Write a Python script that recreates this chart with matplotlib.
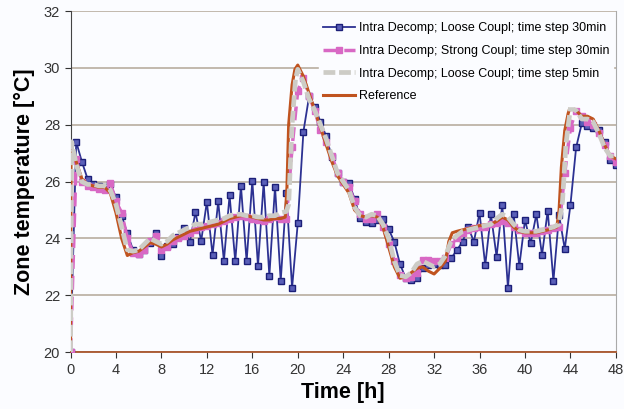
import numpy as np
import matplotlib
matplotlib.use('Agg')
import matplotlib.pyplot as plt

plt.rcParams['font.family'] = ['Liberation Sans', 'DejaVu Sans']

# Intra Decomp; Loose Coupl; time step 30min (every 0.5 h)
t_30 = np.arange(0, 48.5, 0.5)
loose_30 = [20.0, 27.4, 26.7, 26.1, 25.9, 25.85, 25.8, 25.9, 25.45, 24.8,
            24.18, 23.6, 23.45, 23.6, 23.85, 24.18, 23.38, 23.75, 23.79, 24.05,
            24.35, 23.87, 24.92, 23.91, 25.29, 23.42, 25.3, 23.21, 25.52, 23.19,
            25.85, 23.19, 26.03, 23.03, 25.97, 22.68, 25.82, 22.5, 25.59, 22.26,
            24.53, 27.76, 29.0, 28.64, 28.1, 27.6, 26.85, 26.3, 26.0, 25.95,
            25.4, 24.71, 24.59, 24.55, 24.65, 24.7, 24.33, 23.88, 23.1, 22.6,
            22.54, 22.62, 22.95, 23.07, 23.1, 23.07, 23.07, 23.3, 23.59, 23.88,
            24.41, 23.88, 24.9, 23.05, 24.85, 23.36, 25.18, 22.26, 24.86, 23.03,
            24.65, 23.83, 24.85, 23.42, 24.98, 22.5, 24.82, 23.63, 25.18, 27.2,
            28.05, 27.95, 27.9, 27.8, 27.4, 26.76, 26.6]

# Intra Decomp; Strong Coupl; time step 30min
strong_30 = [20.0, 26.8, 26.0, 25.85, 25.8, 25.75, 25.7, 25.95, 25.3, 24.9,
             24.0, 23.5, 23.45, 23.6, 23.9, 24.1, 23.6, 23.7, 23.9, 24.0,
             24.1, 24.2, 24.3, 24.4, 24.45, 24.5, 24.55, 24.6, 24.7, 24.75,
             24.8, 24.75, 24.7, 24.65, 24.6, 24.7, 24.75, 24.7, 24.7, 27.2,
             29.2, 29.65, 29.0, 28.5, 27.8, 27.4, 26.9, 26.3, 26.0, 25.8,
             25.3, 24.85, 24.7, 24.7, 24.85, 24.4, 23.8, 23.2, 22.7, 22.6,
             22.65, 22.8, 23.25, 23.25, 23.2, 23.2, 23.3, 23.8, 24.0, 24.2,
             24.3, 24.35, 24.4, 24.4, 24.5, 24.55, 24.6, 24.55, 24.4, 24.3,
             24.2, 24.2, 24.2, 24.25, 24.3, 24.35, 24.4, 26.3, 27.9, 28.5,
             28.3, 28.1, 28.0, 27.7, 27.3, 26.9, 26.7]

# Intra Decomp; Loose Coupl; time step 5min
t_5 = [0, 0.1, 0.5, 1, 1.5, 2, 2.5, 3, 3.5, 4, 4.5, 5, 5.5, 6, 6.5, 7, 7.5, 8,
       8.5, 9, 9.5, 10, 10.5, 11, 11.5, 12, 12.5, 13, 13.5, 14, 14.5, 15, 15.5,
       16, 16.5, 17, 17.5, 18, 18.5, 19, 19.2, 19.5, 19.8, 20, 20.5, 21, 21.5,
       22, 22.5, 23, 23.5, 24, 24.5, 25, 25.5, 26, 26.5, 27, 27.5, 28, 28.5,
       29, 29.5, 30, 30.5, 31, 31.5, 32, 32.5, 33, 33.5, 34, 34.5, 35, 35.5,
       36, 36.5, 37, 37.5, 38, 38.5, 39, 39.5, 40, 40.5, 41, 41.5, 42, 42.5,
       43, 43.3, 43.6, 44, 44.5, 45, 45.5, 46, 46.5, 47, 47.5, 48]
loose_5 = [20.0, 27.4, 26.6, 26.0, 25.9, 25.9, 25.85, 25.85, 25.7, 25.2, 24.4,
           23.6, 23.55, 23.6, 23.8, 24.0, 23.9, 23.8, 23.9, 24.1, 24.2, 24.3,
           24.4, 24.5, 24.5, 24.55, 24.6, 24.65, 24.7, 24.8, 24.85, 24.85, 24.8,
           24.8, 24.75, 24.75, 24.8, 24.8, 24.9, 24.95, 25.2, 28.0, 29.6, 29.95,
           29.5, 28.9, 28.5, 28.0, 27.5, 26.9, 26.3, 26.0, 25.7, 25.1, 24.8,
           24.75, 24.85, 24.8, 24.5, 24.0, 23.2, 22.7, 22.65, 22.8, 23.1, 23.2,
           23.1, 23.0, 23.1, 23.4, 23.9, 24.1, 24.25, 24.3, 24.35, 24.4, 24.45,
           24.5, 24.7, 24.85, 24.75, 24.5, 24.3, 24.25, 24.25, 24.25, 24.3,
           24.35, 24.4, 24.5, 25.3, 27.3, 28.6, 28.5, 28.2, 28.2, 28.1, 27.7,
           27.2, 26.9, 26.9]

# Reference
t_ref = [0, 0.05, 0.5, 1, 1.5, 2, 2.5, 3, 3.5, 4, 4.5, 5, 5.5, 6, 6.5, 7, 7.5,
         8, 8.5, 9, 9.5, 10, 10.5, 11, 11.5, 12, 12.5, 13, 13.5, 14, 14.5, 15,
         15.5, 16, 16.5, 17, 17.5, 18, 18.5, 18.9, 19.05, 19.2, 19.5, 19.75, 20,
         20.5, 21, 21.5, 22, 22.5, 23, 23.5, 24, 24.5, 25, 25.5, 26, 26.5, 27,
         27.5, 28, 28.5, 29, 29.5, 30, 30.5, 31, 31.5, 32, 32.5, 33, 33.3, 33.6,
         34, 35, 36, 37, 37.5, 38, 38.5, 39, 39.5, 40, 41, 42, 42.8, 43, 43.2,
         43.5, 43.8, 44, 44.5, 45, 45.5, 46, 46.5, 47, 47.5, 48]
reference = [20.0, 27.3, 26.7, 26.1, 25.9, 25.85, 25.8, 25.8, 25.6, 24.9, 24.0,
             23.4, 23.5, 23.55, 23.7, 23.85, 23.8, 23.7, 23.8, 23.95, 24.05,
             24.15, 24.25, 24.3, 24.35, 24.4, 24.45, 24.5, 24.6, 24.7, 24.75,
             24.8, 24.8, 24.75, 24.7, 24.65, 24.65, 24.7, 24.7, 24.75, 25.8,
             28.0, 29.4, 29.95, 30.1, 29.7, 29.1, 28.5, 27.9, 27.3, 26.7, 26.2,
             25.9, 25.6, 25.0, 24.8, 24.75, 24.8, 24.75, 24.4, 23.7, 23.0, 22.6,
             22.65, 22.8, 22.95, 23.0, 22.85, 22.75, 22.95, 23.2, 23.9, 24.2,
             24.25, 24.35, 24.45, 24.5, 24.6, 24.75, 24.65, 24.4, 24.25, 24.2,
             24.2, 24.3, 24.4, 25.0, 26.5, 27.8, 28.4, 28.65, 28.5, 28.3, 28.3,
             28.2, 27.8, 27.3, 26.9, 26.8]

labels = ['Intra Decomp; Loose Coupl; time step 30min',
          'Intra Decomp; Strong Coupl; time step 30min',
          'Intra Decomp; Loose Coupl; time step 5min',
          'Reference']

fig = plt.figure(figsize=(6.24, 4.09), dpi=100, facecolor='#fbfcff')
ax = fig.add_axes([0.113, 0.139, 0.874, 0.834])
ax.set_facecolor('#fbfcff')

ax.plot(t_30, loose_30, color='#2c3192', lw=1.3, marker='s', ms=4.5,
        mfc='#5a5fb8', mec='#1c1f78', mew=1.0, label=labels[0], zorder=3)
ax.plot(t_30, strong_30, color='#d868c4', lw=2.5, ls=(0, (4, 2)), marker='s',
        ms=4, mfc='#d868c4', mec='#d868c4', label=labels[1], zorder=4)
ax.plot(t_ref, reference, color='#c0531f', lw=2.2, label=labels[3], zorder=5)
ax.plot(t_5, loose_5, color='#cdccc6', lw=3.4, ls=(0, (2.5, 0.8)),
        label=labels[2], zorder=6)

ax.set_xlim(0, 48)
ax.set_ylim(20, 32)
ax.set_xticks(np.arange(0, 49, 4))
ax.set_yticks(np.arange(20, 33, 2))
ax.yaxis.grid(True, color='#b3a697', lw=1.1)
ax.set_axisbelow(True)
ax.tick_params(labelsize=10.5, colors='#333333', length=4, direction='out')

ax.spines['left'].set_color('#444444')
ax.spines['bottom'].set_color('#a8552c')
ax.spines['bottom'].set_linewidth(1.3)
ax.spines['right'].set_color('#aaaaaa')
ax.spines['top'].set_visible(False)

ax.set_xlabel('Time [h]', fontsize=15.5, fontweight='bold', labelpad=4)
ax.set_ylabel('Zone temperature [\u00b0C]', fontsize=15.5, fontweight='bold', labelpad=6)

h, l = ax.get_legend_handles_labels()
order = [0, 1, 3, 2]
leg = ax.legend([h[i] for i in order], [l[i] for i in order], loc='upper right',
                bbox_to_anchor=(0.995, 0.978),
                fontsize=9, frameon=True, facecolor='#fbfcff', edgecolor='#fbfcff',
                framealpha=1, handlelength=2.6, handletextpad=0.3,
                borderaxespad=0.0, borderpad=0.3, labelspacing=0.85)
leg.set_zorder(10)

fig.savefig('out.png', dpi=100, facecolor=fig.get_facecolor())
